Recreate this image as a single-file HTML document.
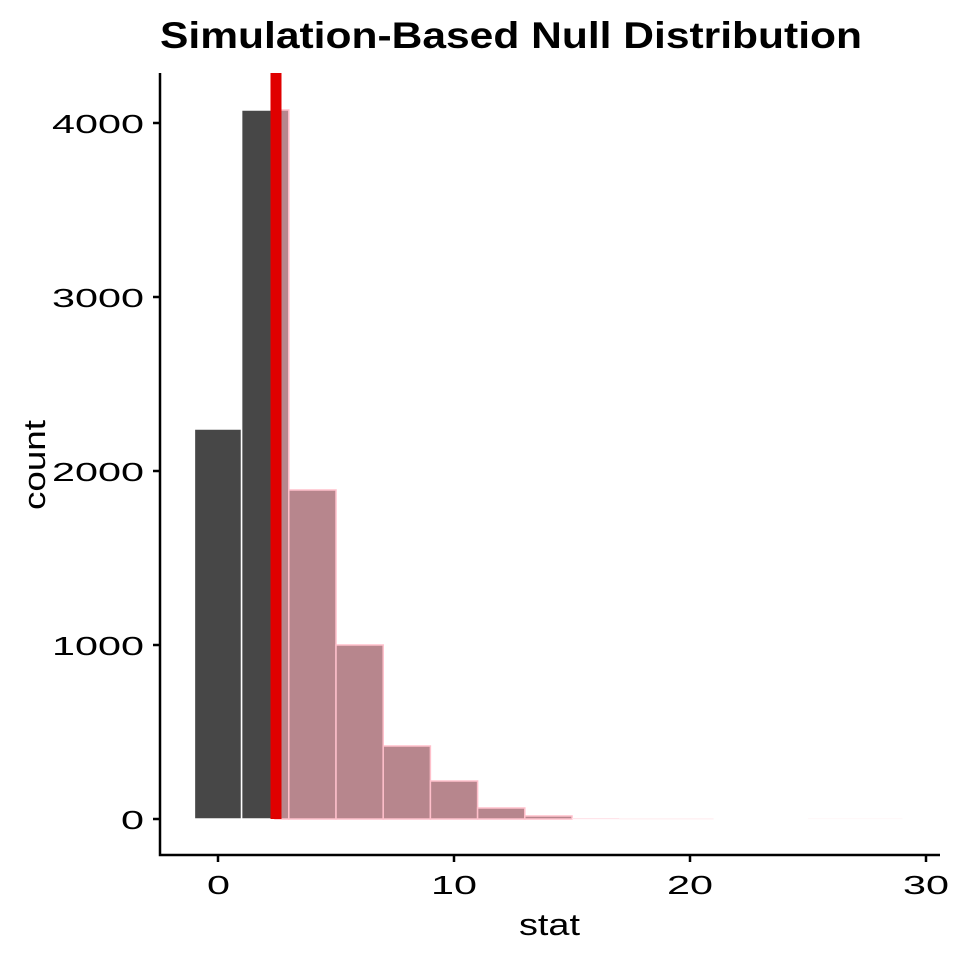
<!DOCTYPE html>
<html><head><style>body{margin:0;background:#fff}svg{display:block}</style></head>
<body>
<svg width="960" height="960" xmlns="http://www.w3.org/2000/svg" font-family="Liberation Sans, sans-serif">
<rect width="960" height="960" fill="#fff"/>
<text x="160" y="48" font-size="37" font-weight="bold" textLength="702" lengthAdjust="spacingAndGlyphs">Simulation-Based Null Distribution</text>
<g stroke="#fff" stroke-width="1.5">
<rect x="194.4" y="429" width="47.2" height="390" fill="#474747"/>
<rect x="241.6" y="110" width="47.2" height="709" fill="#474747"/>
</g>
<g fill="#b7868d" stroke="#ffc0cb" stroke-width="1.5">
<rect x="275" y="110" width="13.8" height="709"/>
<rect x="288.8" y="490" width="47.2" height="329"/>
<rect x="336" y="645" width="47.2" height="174"/>
<rect x="383.2" y="746" width="47.2" height="73"/>
<rect x="430.4" y="781" width="47.2" height="38"/>
<rect x="477.6" y="808" width="47.2" height="11"/>
<rect x="524.8" y="816" width="47.2" height="3"/>
</g>
<g fill="#ffe4ea">
<rect x="572" y="818" width="47.2" height="1.2"/>
<rect x="619.2" y="818.5" width="94.4" height="0.8"/>
<rect x="808" y="818.5" width="94.4" height="0.6" fill="#fff0f3"/>
</g>
<rect x="270.5" y="73" width="11" height="746" fill="#e00000"/>
<g stroke="#000" stroke-width="2.5" fill="none">
<path d="M160 73V855H940"/>
<path d="M153 819H160M153 645H160M153 471H160M153 297H160M153 123H160"/>
<path d="M218 855V862M454 855V862M690 855V862M926 855V862"/>
</g>
<g font-size="26">
<text x="121" y="829" textLength="23" lengthAdjust="spacingAndGlyphs">0</text>
<text x="52" y="655" textLength="92" lengthAdjust="spacingAndGlyphs">1000</text>
<text x="52" y="481" textLength="92" lengthAdjust="spacingAndGlyphs">2000</text>
<text x="52" y="307" textLength="92" lengthAdjust="spacingAndGlyphs">3000</text>
<text x="52" y="133" textLength="92" lengthAdjust="spacingAndGlyphs">4000</text>
</g>
<g font-size="26">
<text x="207" y="894" textLength="23" lengthAdjust="spacingAndGlyphs">0</text>
<text x="431" y="894" textLength="46" lengthAdjust="spacingAndGlyphs">10</text>
<text x="667" y="894" textLength="46" lengthAdjust="spacingAndGlyphs">20</text>
<text x="903" y="894" textLength="46" lengthAdjust="spacingAndGlyphs">30</text>
</g>
<text x="519" y="935" font-size="31" textLength="61" lengthAdjust="spacingAndGlyphs">stat</text>
<text transform="translate(45,510) rotate(-90)" font-size="31" textLength="90" lengthAdjust="spacingAndGlyphs">count</text>
</svg>
</body></html>
